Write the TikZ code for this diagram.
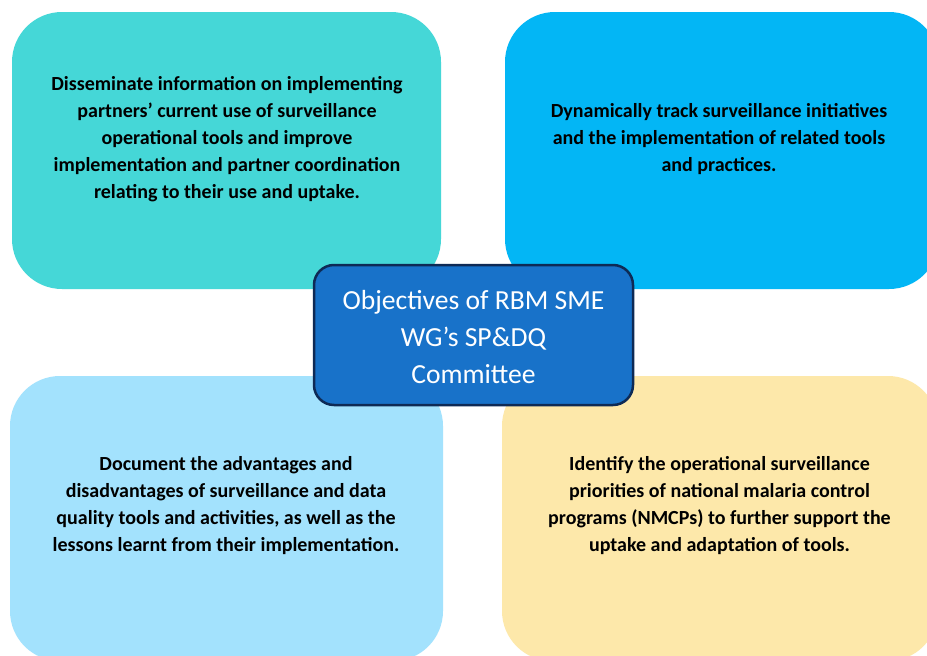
\documentclass[tikz,border=0pt]{standalone}
\usepackage{fontspec}
\setmainfont{Carlito}
\definecolor{cTL}{HTML}{45D7D7}
\definecolor{cTR}{HTML}{03B6F5}
\definecolor{cBL}{HTML}{A3E2FD}
\definecolor{cBR}{HTML}{FDE8AA}
\definecolor{cC}{HTML}{1872C9}
\definecolor{cCb}{HTML}{0E2A55}
\tikzset{
  quad/.style={rounded corners=50pt, inner sep=0pt, outer sep=0pt},
  qtext/.style={font=\bfseries\fontsize{20}{27}\selectfont, align=center, text=black, inner sep=0pt},
  ctext/.style={font=\fontsize{27.6}{37}\selectfont, align=center, text=white, inner sep=0pt},
}
\begin{document}
\begin{tikzpicture}[x=1pt,y=-1pt]
\useasboundingbox (0,0) rectangle (927,656);
\clip (0,0) rectangle (927,656);
\fill[white] (0,0) rectangle (927,656);
\fill[cTL, quad] (12,12) rectangle (441,289);
\fill[cTR, quad] (505,12) rectangle (939,289);
\fill[cBL, quad] (10,376) rectangle (443,661);
\fill[cBR, quad] (502,376) rectangle (938,661);
\node[qtext] (tl) at (227,139) {Disseminate information on implementing\\partners’ current use of surveillance\\operational tools and improve\\implementation and partner coordination\\relating to their use and uptake.};
\node[qtext] (tr) at (719,139) {Dynamically track surveillance initiatives\\and the implementation of related tools\\and practices.};
\node[qtext] (bl) at (226,505.5) {Document the advantages and\\disadvantages of surveillance and data\\quality tools and activities, as well as the\\lessons learnt from their implementation.};
\node[qtext] (br) at (719.5,505.5) {Identify the operational surveillance\\priorities of national malaria control\\programs (NMCPs) to further support the\\uptake and adaptation of tools.};
\draw[cCb, line width=2.5pt, fill=cC, rounded corners=20pt] (314,265) rectangle (633,405);
\node[ctext] (c) at (473.5,337.5) {Objectives of RBM SME\\WG’s SP\&DQ\\Committee};
\end{tikzpicture}
\end{document}
